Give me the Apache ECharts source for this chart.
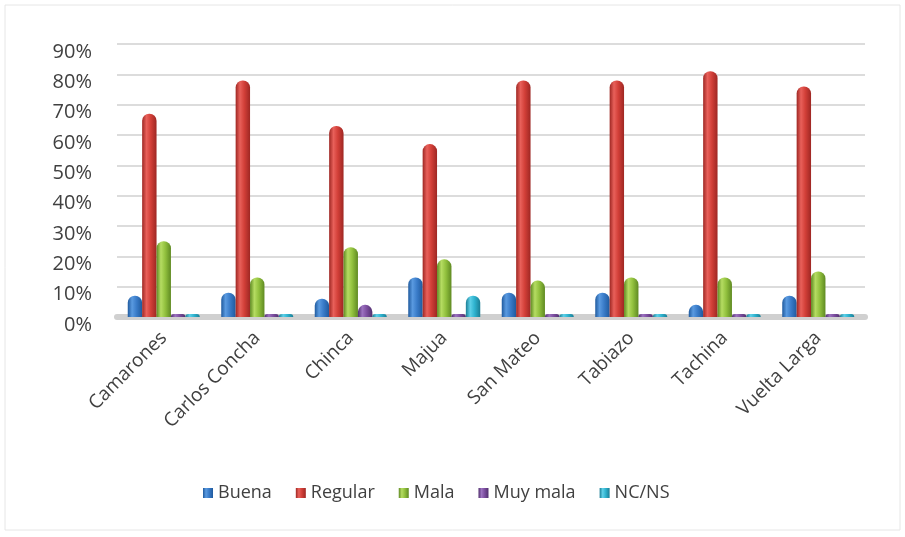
<!DOCTYPE html>
<html>
<head>
<meta charset="utf-8">
<script src="https://cdn.jsdelivr.net/npm/echarts@6/dist/echarts.min.js"></script>
<style>
  html, body { margin: 0; padding: 0; background: #fff; }
  #main { width: 905px; height: 537px; }
</style>
</head>
<body>
<div id="main"></div>
<script>
// datos (porcentajes)
var categorias = ['Camarones', 'Carlos Concha', 'Chinca', 'Majua', 'San Mateo', 'Tabiazo', 'Tachina', 'Vuelta Larga'];
var buena   = [7, 8, 6, 13, 8, 8, 4, 7];
var regular = [67, 78, 63, 57, 78, 78, 81, 76];
var mala    = [25, 13, 23, 19, 12, 13, 13, 15];
var muyMala = [0, 0, 4, 1, 0, 0, 0, 0];
var ncns    = [0, 0, 1, 7, 0, 0, 0, 0];
var ticksY  = [0, 10, 20, 30, 40, 50, 60, 70, 80, 90];

var dom = document.getElementById('main');
var chart = echarts.init(dom);

// degradado horizontal para imitar cilindros
function cilindro(oscuro, claro, medio) {
  return new echarts.graphic.LinearGradient(0, 0, 1, 0, [
    { offset: 0, color: oscuro },
    { offset: 0.3, color: claro },
    { offset: 0.6, color: medio },
    { offset: 1, color: oscuro }
  ]);
}

function serie(nombre, datos, c) {
  return {
    name: nombre,
    type: 'bar',
    data: datos,
    barGap: '0%',
    barCategoryGap: '23%',
    barMinHeight: 3,
    itemStyle: {
      color: cilindro(c[0], c[1], c[2]),
      borderRadius: [7, 7, 0, 0]
    }
  };
}

var option = {
  animation: false,
  textStyle: { fontFamily: 'Open Sans, Noto Sans, sans-serif', color: '#404040' },
  grid: { left: 117, right: 40, top: 44, bottom: 220 },
  legend: {
    top: 479,
    left: 198,
    icon: 'rect',
    itemWidth: 10,
    itemHeight: 10,
    itemGap: 24,
    textStyle: { fontSize: 18, color: '#404040' },
    data: ['Buena', 'Regular', 'Mala', 'Muy mala', 'NC/NS']
  },
  xAxis: {
    type: 'category',
    data: categorias,
    axisTick: { show: false },
    axisLine: { lineStyle: { color: '#d0d0d0', width: 6 } },
    axisLabel: { rotate: 45, fontSize: 19, color: '#404040', margin: 18, interval: 0 }
  },
  yAxis: {
    type: 'value',
    min: 0,
    max: 90,
    interval: 10,
    axisLine: { show: false },
    axisTick: { show: false },
    splitLine: { lineStyle: { color: '#dcdcdc', width: 2 } },
    axisLabel: {
      fontSize: 20,
      color: '#404040',
      margin: 25,
      verticalAlign: 'top',
      lineHeight: 16,
      formatter: function (v) { return ticksY.indexOf(v) >= 0 ? v + '%' : ''; }
    }
  },
  series: [
    serie('Buena', buena, ['#1f5a9e', '#5a9ae0', '#3a7cc9']),
    serie('Regular', regular, ['#9e2723', '#e8605a', '#d23f38']),
    serie('Mala', mala, ['#5f8a22', '#b5dc62', '#92c13e']),
    serie('Muy mala', muyMala, ['#512f6e', '#9c72c0', '#7d4fa0']),
    serie('NC/NS', ncns, ['#1a7e95', '#5ed0e8', '#2fb3cf'])
  ],
  graphic: [{
    type: 'rect',
    shape: { x: 5, y: 5, width: 895, height: 525 },
    style: { fill: 'none', stroke: '#e6e6e6', lineWidth: 1 },
    silent: true
  }]
};

chart.setOption(option);
</script>
</body>
</html>
